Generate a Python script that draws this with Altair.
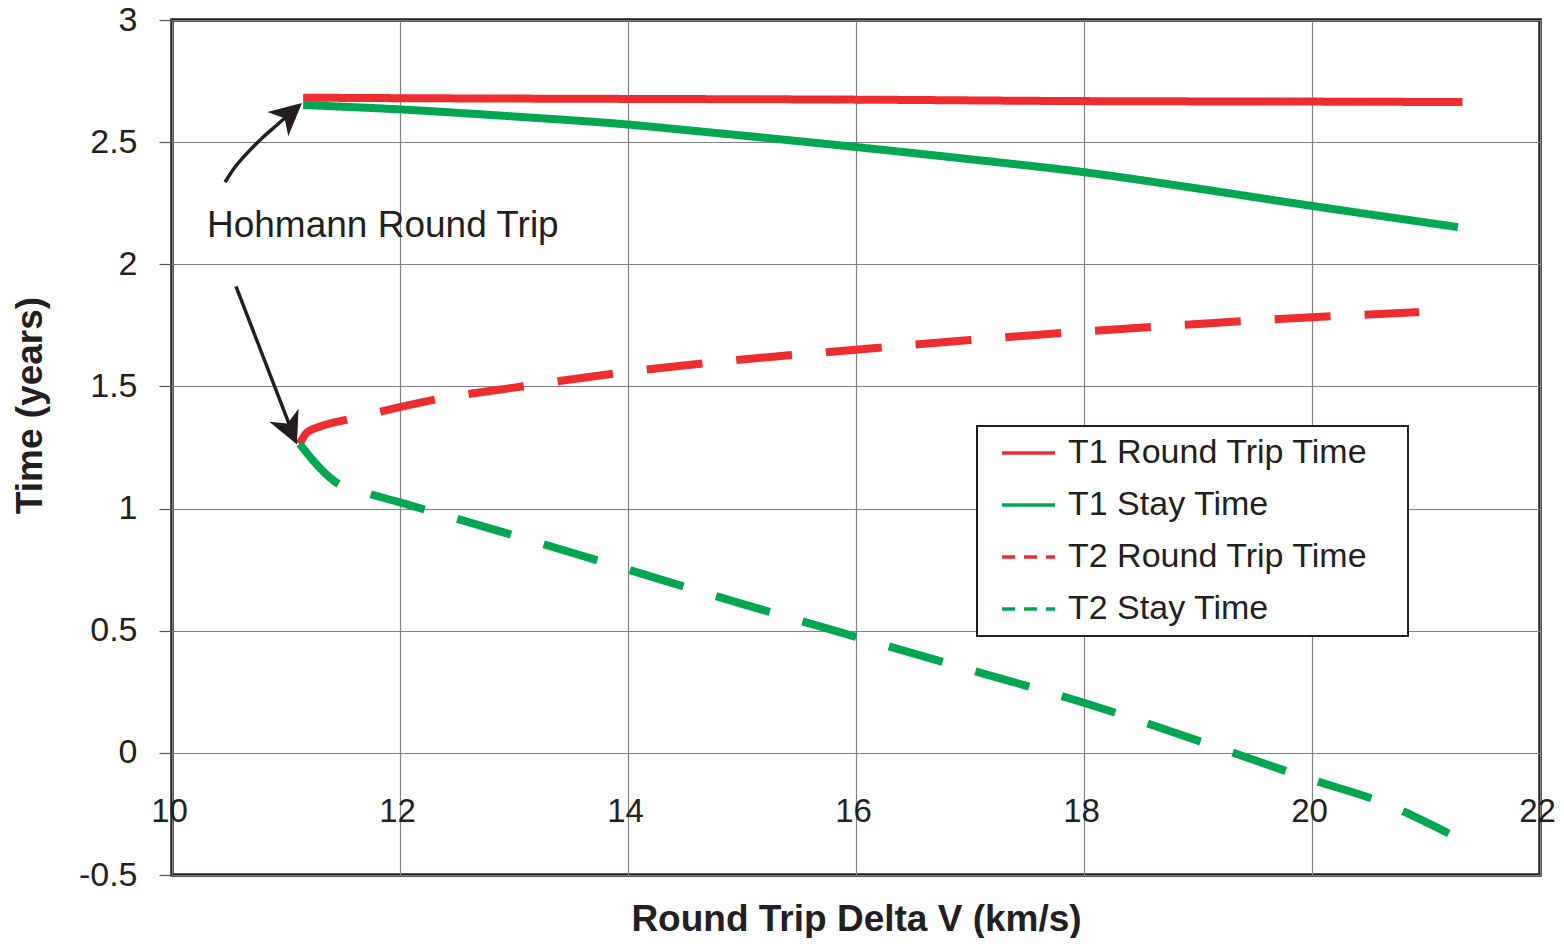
import altair as alt
import pandas as pd

# ---- data ----
t1_rt_x = [11.15, 12, 14, 16, 18, 20, 21.32]
t1_rt_y = [2.682, 2.680, 2.677, 2.674, 2.668, 2.666, 2.664]

t1_st_x = [11.15, 12, 13, 14, 14.54, 16, 17, 18, 19, 20, 21, 21.28]
t1_st_y = [2.652, 2.634, 2.605, 2.572, 2.548, 2.48, 2.43, 2.377, 2.31, 2.239, 2.171, 2.152]

t2_rt_x = [11.12, 11.18, 11.3, 11.54, 11.84, 12.32, 13, 14, 15, 16, 17, 18, 19, 20, 20.94]
t2_rt_y = [1.265, 1.31, 1.336, 1.365, 1.398, 1.447, 1.495, 1.56, 1.61, 1.65, 1.69, 1.725, 1.756, 1.783, 1.804]

t2_st_x = [11.12, 11.25, 11.43, 11.7, 12, 13, 14, 15, 16, 17, 18, 19, 20, 20.6, 21.2]
t2_st_y = [1.265, 1.19, 1.11, 1.065, 1.025, 0.89, 0.75, 0.61, 0.475, 0.34, 0.205, 0.05, -0.11, -0.2, -0.33]

series_names = ["T1 Round Trip Time", "T1 Stay Time", "T2 Round Trip Time", "T2 Stay Time"]
series_colors = ["#ED2D2F", "#00A651", "#ED2D2F", "#00A651"]
series_dash = [[1, 0], [1, 0], [56, 34], [56, 34]]
legend_dash = [[1, 0], [1, 0], [13, 9], [13, 9]]

x_ticks = [10, 12, 14, 16, 18, 20, 22]
y_ticks = [-0.5, 0, 0.5, 1, 1.5, 2, 2.5, 3]

annot_text = ["Hohmann Round Trip"]
annot_x = [10.307]
annot_y = [2.156]

arrow1_x = [10.465, 10.553, 10.667, 10.789, 10.93, 11.10]
arrow1_y = [2.336, 2.398, 2.459, 2.516, 2.574, 2.645]
arrow2_x = [10.561, 11.07]
arrow2_y = [1.910, 1.295]
head_x = [11.14, 11.096]
head_y = [2.66, 1.262]
head_angle = [49, 156]

# ---- build tables ----
rows = []
for name, xs, ys in zip(series_names,
                        [t1_rt_x, t1_st_x, t2_rt_x, t2_st_x],
                        [t1_rt_y, t1_st_y, t2_rt_y, t2_st_y]):
    for i, (a, b) in enumerate(zip(xs, ys)):
        rows.append({"x": a, "y": b, "series": name, "order": i})
df = pd.DataFrame(rows)

arrows = []
for aid, xs, ys in [("a1", arrow1_x, arrow1_y), ("a2", arrow2_x, arrow2_y)]:
    for i, (a, b) in enumerate(zip(xs, ys)):
        arrows.append({"x": a, "y": b, "id": aid, "order": i})
arrow_df = pd.DataFrame(arrows)
head_df = pd.DataFrame({"x": head_x, "y": head_y, "angle": head_angle})
annot_df = pd.DataFrame({"x": annot_x, "y": annot_y, "text": annot_text})

TXT = "#231F20"
FONT = "Liberation Sans"

xscale = alt.Scale(domain=[10, 22], nice=False, zero=False)
yscale = alt.Scale(domain=[-0.5, 3], nice=False, zero=False)

x_axis = alt.Axis(
    values=x_ticks, labelExpr="datum.value + ''", grid=True, ticks=False, tickSize=0, domain=False,
    labelPadding=-64, labelBaseline="middle", labelFlush=False, labelOverlap=False,
    labelFontSize=33, labelOffset=-3,
    title="Round Trip Delta V (km/s)", titleY=55, titleBaseline="alphabetic",
)
y_axis = alt.Axis(
    values=y_ticks, labelExpr="datum.value + ''", grid=True, domain=False,
    ticks=True, tickSize=13, tickColor="#555555", tickWidth=1.2, labelPadding=22,
    labelFontSize=34,
    title="Time (years)", titleX=-142, titleY=385, titleAngle=-90,
    titleAlign="center", titleBaseline="middle",
)

legend = alt.Legend(
    orient="none", legendX=805, legendY=406,
    title="M", titleOrient="right", titleOpacity=0, titleFontSize=24, titlePadding=10,
    symbolType="stroke", symbolSize=2809, symbolStrokeWidth=3.5, symbolOffset=13,
    labelFont=FONT, labelFontSize=34, labelColor=TXT, labelOffset=11, labelLimit=0,
    padding=10, clipHeight=34, rowPadding=18,
    strokeColor="#231F20", fillColor="white",
)

lines = alt.Chart(df).mark_line(strokeWidth=8, strokeCap="butt", interpolate="monotone").encode(
    x=alt.X("x:Q", scale=xscale, axis=x_axis),
    y=alt.Y("y:Q", scale=yscale, axis=y_axis),
    color=alt.Color("series:N", scale=alt.Scale(domain=series_names, range=series_colors), legend=None),
    strokeDash=alt.StrokeDash("series:N", scale=alt.Scale(domain=series_names, range=series_dash), legend=None),
    order="order:Q",
)

# legend-only layer (no rows drawn), with its own short dash pattern for the key
legend_layer = alt.Chart(df).transform_filter("datum.x < 0").mark_line(strokeWidth=3.5).encode(
    x="x:Q", y="y:Q",
    color=alt.Color("series:N", scale=alt.Scale(domain=series_names, range=series_colors), legend=legend),
    strokeDash=alt.StrokeDash("series:N", scale=alt.Scale(domain=series_names, range=legend_dash), legend=legend),
)

annot = alt.Chart(annot_df).mark_text(
    align="left", baseline="middle", font=FONT, fontSize=37, color=TXT
).encode(x="x:Q", y="y:Q", text="text:N")

shafts = alt.Chart(arrow_df).mark_line(strokeWidth=3.5, color=TXT, interpolate="monotone").encode(
    x="x:Q", y="y:Q", detail="id:N", order="order:Q"
)

heads = alt.Chart(head_df).mark_point(
    shape="M0,0 L0.5,1 L0,0.72 L-0.5,1 Z", size=4096, filled=True, color=TXT, opacity=1
).encode(x="x:Q", y="y:Q", angle=alt.Angle("angle:Q", scale=None))

chart = alt.layer(lines, legend_layer, annot, shafts, heads).resolve_scale(
    color="independent", strokeDash="independent"
).properties(
    width=1368, height=855,
    padding={"left": 164, "top": 12, "right": 16, "bottom": 63},
    autosize=alt.AutoSizeParams(type="none"),
).configure_view(
    stroke=TXT, strokeWidth=3.5
).configure_axis(
    gridColor="#808080", gridWidth=1.2, gridOpacity=1,
    labelFont=FONT, labelColor=TXT,
    titleFont=FONT, titleFontSize=37, titleFontWeight="bold", titleColor=TXT,
).configure_legend(
    strokeWidth=2
)

chart.save("out.html", embed_options={"renderer": "svg", "actions": False})
